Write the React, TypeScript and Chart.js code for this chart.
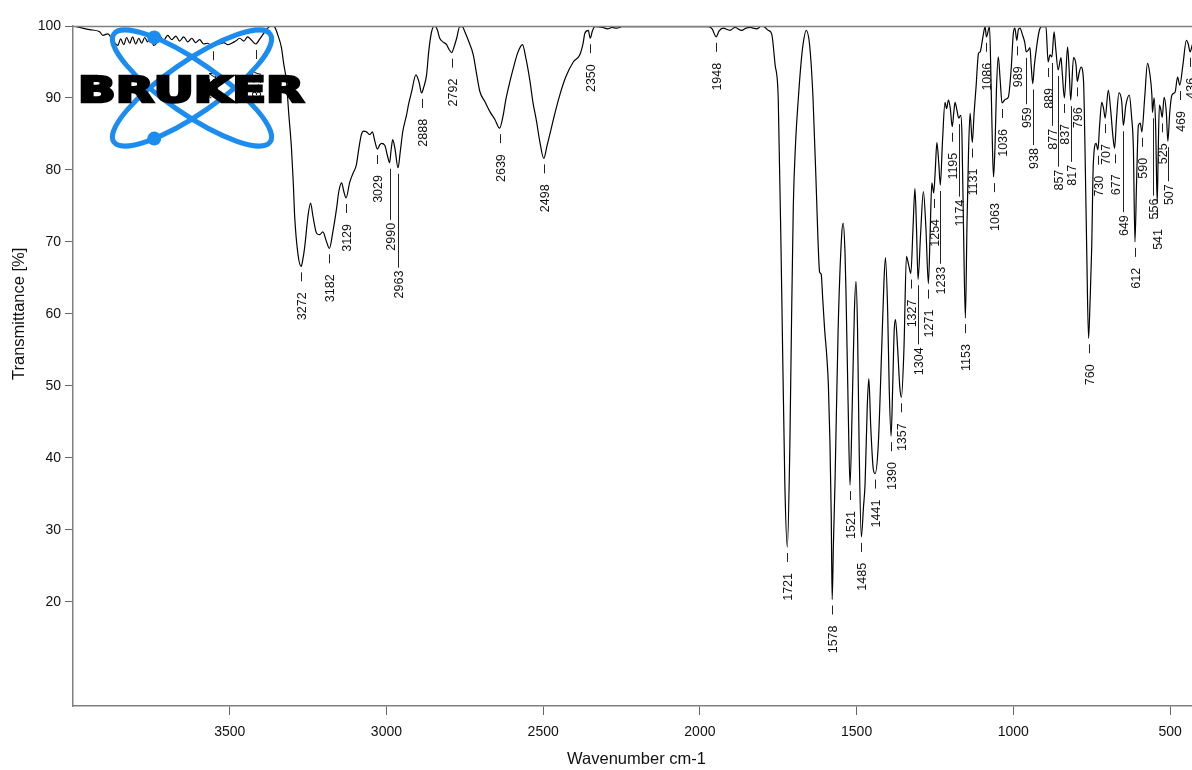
import React, { useEffect, useRef } from 'react';
import { Chart, registerables } from 'chart.js';

Chart.register(...registerables);

const FONT = '"Liberation Sans", Arial, Helvetica, sans-serif';

// Spectrum trace (wavenumber cm-1, transmittance %)
const WAVENUMBERS = [
  4000, 3979, 3947, 3915, 3905, 3889, 3873, 3857, 3848, 3838, 3829, 3819, 3810, 3800, 3790, 3781,
  3771, 3762, 3752, 3743, 3733, 3723, 3711, 3698, 3685, 3672, 3660, 3647, 3634, 3621, 3609, 3596,
  3583, 3570, 3557, 3545, 3532, 3519, 3506, 3494, 3481, 3468, 3455, 3443, 3430, 3417, 3404, 3391,
  3379, 3366, 3356, 3347, 3335, 3328, 3319, 3312, 3303, 3297, 3293, 3282, 3272, 3267, 3261, 3250,
  3242, 3235, 3223, 3213, 3203, 3191, 3182, 3171, 3159, 3152, 3143, 3136, 3129, 3117, 3107, 3096,
  3088, 3080, 3073, 3064, 3053, 3045, 3037, 3029, 3021, 3016, 3005, 2997, 2990, 2985, 2980, 2973,
  2963, 2956, 2948, 2936, 2929, 2920, 2906, 2896, 2888, 2881, 2872, 2865, 2856, 2846, 2838, 2830,
  2820, 2808, 2801, 2792, 2785, 2776, 2766, 2758, 2750, 2737, 2723, 2713, 2702, 2686, 2670, 2654,
  2639, 2628, 2619, 2606, 2593, 2581, 2566, 2555, 2542, 2533, 2521, 2511, 2498, 2488, 2479, 2463,
  2447, 2428, 2404, 2383, 2373, 2367, 2356, 2350, 2343, 2335, 2310, 2294, 2281, 2265, 2249, 2191,
  2064, 1974, 1961, 1948, 1939, 1926, 1904, 1888, 1867, 1853, 1840, 1819, 1803, 1792, 1782, 1771,
  1760, 1750, 1739, 1729, 1721, 1713, 1708, 1702, 1695, 1686, 1678, 1671, 1661, 1650, 1639, 1628,
  1623, 1618, 1613, 1608, 1602, 1595, 1590, 1585, 1581, 1578, 1574, 1569, 1559, 1548, 1543, 1537,
  1534, 1527, 1521, 1514, 1507, 1502, 1497, 1492, 1485, 1478, 1473, 1466, 1461, 1455, 1447, 1441,
  1431, 1420, 1413, 1408, 1401, 1396, 1390, 1385, 1380, 1376, 1369, 1362, 1357, 1349, 1341, 1334,
  1327, 1320, 1314, 1309, 1304, 1296, 1287, 1279, 1271, 1265, 1260, 1254, 1249, 1244, 1238, 1233,
  1226, 1218, 1213, 1207, 1201, 1195, 1190, 1186, 1180, 1174, 1168, 1164, 1159, 1153, 1148, 1143,
  1138, 1131, 1125, 1119, 1111, 1106, 1097, 1090, 1086, 1076, 1071, 1066, 1063, 1058, 1054, 1048,
  1042, 1036, 1026, 1016, 1007, 1000, 995, 989, 984, 979, 971, 963, 959, 953, 947, 943,
  938, 933, 926, 918, 910, 896, 889, 883, 877, 870, 865, 857, 848, 844, 837, 827,
  822, 817, 808, 800, 796, 790, 784, 776, 771, 766, 760, 755, 750, 745, 736, 730,
  725, 718, 712, 707, 697, 689, 683, 677, 671, 663, 654, 649, 641, 630, 623, 617,
  612, 607, 601, 595, 590, 581, 572, 565, 558, 556, 551, 546, 541, 538, 534, 530,
  525, 519, 512, 507, 501, 494, 484, 476, 469, 459, 448, 442, 436, 429,
];

const TRANSMITTANCE = [
  100, 99.8, 99.5, 99.2, 98.7, 98.9, 98.0, 97.3, 98.2, 97.4, 98.4, 97.6, 98.5, 97.5, 98.3, 97.6,
  98.4, 97.8, 98.5, 97.3, 97.6, 98.6, 98.0, 98.7, 98.1, 98.6, 97.9, 98.5, 97.8, 98.3, 97.7, 98.1,
  97.5, 97.6, 97.2, 97.7, 97.5, 97.7, 97.4, 97.6, 97.9, 98.3, 97.9, 98.5, 98.0, 97.5, 98.2, 99.0,
  99.7, 100, 99.8, 98.8, 97.0, 94.8, 92.3, 88.0, 83.0, 78.0, 73.7, 68.2, 66.6, 67.5, 69.2, 73.7,
  75.4, 73.7, 71.2, 71.0, 71.4, 70.0, 69.1, 71.4, 74.7, 77.0, 78.2, 77.0, 76.1, 78.3, 79.5, 80.7,
  83.0, 84.9, 85.4, 85.3, 84.9, 85.3, 84.0, 82.9, 83.5, 83.7, 83.4, 82.0, 81.0, 82.8, 84.2, 83.0,
  80.3, 82.5, 85.3, 87.6, 89.2, 90.8, 93.2, 92.2, 90.7, 91.5, 93.2, 96.5, 99.2, 100, 99.5, 98.3,
  97.8, 97.4, 96.8, 96.3, 97.0, 98.3, 99.9, 99.9, 99.2, 97.8, 96.0, 93.5, 90.9, 89.5, 88.1, 87.0,
  85.8, 87.5, 89.8, 92.3, 94.5, 96.3, 97.4, 95.5, 92.3, 89.5, 86.7, 84.0, 81.6, 83.3, 84.9, 87.8,
  90.4, 92.9, 95.0, 96.0, 97.5, 99.0, 99.4, 98.3, 99.3, 99.9, 99.8, 99.6, 99.8, 99.7, 99.9, 99.9,
  99.9, 99.9, 99.6, 98.5, 99.3, 99.7, 99.4, 99.8, 99.4, 99.7, 99.8, 99.6, 100, 99.8, 99.4, 98.9,
  94.6, 89.9, 63.2, 36.4, 27.6, 41.7, 57.8, 74.9, 83.5, 89.9, 94.5, 97.4, 99.4, 97.4, 89.9, 76.5,
  70.0, 65.8, 65.5, 62.0, 57.8, 54.0, 50.0, 42.0, 32.0, 20.3, 28.0, 36.4, 57.8, 70.7, 72.6, 68.5,
  63.2, 47.2, 36.2, 47.2, 60.5, 64.5, 57.8, 41.7, 29.0, 33.2, 36.4, 47.2, 51.0, 44.4, 38.5, 37.8,
  41.7, 55.1, 64.2, 67.8, 60.5, 49.7, 43.0, 49.7, 57.8, 59.2, 55.1, 49.7, 48.4, 55.1, 68.0, 66.8,
  65.6, 72.0, 77.4, 72.0, 64.8, 71.0, 77.0, 72.0, 64.2, 72.0, 78.2, 76.8, 80.0, 83.8, 81.0, 77.9,
  84.0, 89.4, 88.5, 89.7, 88.5, 86.0, 88.0, 89.4, 88.3, 87.2, 87.6, 85.0, 72.0, 59.4, 72.0, 82.4,
  87.9, 83.8, 88.0, 91.5, 96.2, 96.4, 98.5, 99.9, 98.5, 99.9, 92.0, 82.0, 79.0, 84.0, 91.0, 95.7,
  92.5, 89.3, 89.8, 90.1, 94.0, 99.0, 99.7, 98.0, 99.5, 99.7, 98.8, 97.6, 96.4, 96.6, 97.0, 94.5,
  92.0, 94.5, 97.0, 99.2, 99.9, 99.9, 95.0, 96.0, 95.7, 99.2, 97.0, 93.9, 95.6, 93.5, 90.0, 97.1,
  94.0, 89.7, 95.6, 94.6, 92.3, 93.5, 94.3, 92.3, 82.0, 69.2, 56.6, 62.0, 69.2, 80.7, 83.7, 82.8,
  86.0, 89.4, 88.5, 87.2, 91.1, 88.1, 85.0, 83.0, 87.0, 90.7, 89.4, 86.2, 89.0, 90.4, 87.5, 83.0,
  70.0, 78.0, 86.2, 86.5, 85.3, 90.0, 94.8, 93.5, 90.4, 88.0, 90.0, 86.0, 75.4, 82.0, 89.0, 88.5,
  87.3, 90.1, 88.0, 84.0, 88.0, 90.4, 90.8, 92.9, 91.8, 94.6, 98.0, 97.5, 96.4, 97.4,
];

// Peak picks (wavenumbers printed under the minima)
const PEAK_LABELS = [
  3554, 3417, 3272, 3182, 3129, 3029, 2990, 2963, 2888, 2792, 2639, 2498, 2350, 1948,
  1721, 1578, 1521, 1485, 1441, 1390, 1357, 1327, 1304, 1271, 1254, 1233, 1195, 1174,
  1153, 1131, 1086, 1063, 1036, 989, 959, 938, 889, 877, 857, 837, 817, 796, 760, 730,
  707, 677, 649, 612, 590, 556, 541, 525, 507, 469, 436,
];

const X_TICKS = [3500, 3000, 2500, 2000, 1500, 1000, 500];
const Y_TICKS = [20, 30, 40, 50, 60, 70, 80, 90, 100];
const X_TITLE = 'Wavenumber cm-1';
const Y_TITLE = 'Transmittance [%]';
const LOGO_TEXT = 'BRUKER';

function transmittanceAt(w: number): number {
  for (let i = 0; i < WAVENUMBERS.length - 1; i++) {
    const a = WAVENUMBERS[i];
    const b = WAVENUMBERS[i + 1];
    if (w <= a && w >= b) {
      const t = a === b ? 0 : (a - w) / (a - b);
      return TRANSMITTANCE[i] + t * (TRANSMITTANCE[i + 1] - TRANSMITTANCE[i]);
    }
  }
  return 100;
}

const framePlugin = {
  id: 'frameTop',
  afterDraw(chart: any) {
    const { ctx, chartArea } = chart;
    ctx.save();
    ctx.strokeStyle = '#808080';
    ctx.lineWidth = 1.5;
    ctx.beginPath();
    ctx.moveTo(chartArea.left, chartArea.top + 0.5);
    ctx.lineTo(chartArea.right, chartArea.top + 0.5);
    ctx.stroke();
    ctx.restore();
  },
};

const peakLabelPlugin = {
  id: 'peakLabels',
  afterDatasetsDraw(chart: any) {
    const { ctx } = chart;
    const xs = chart.scales.x;
    const ys = chart.scales.y;
    ctx.save();
    ctx.font = `12.5px ${FONT}`;
    ctx.fillStyle = '#111';
    ctx.strokeStyle = '#222';
    ctx.lineWidth = 1;
    const placed: { x: number; top: number; bottom: number }[] = [];
    for (const p of PEAK_LABELS) {
      const rx = xs.getPixelForValue(p);
      const px = Math.round(rx) + 0.5;
      const dip = ys.getPixelForValue(transmittanceAt(p));
      const text = String(p);
      const len = ctx.measureText(text).width;
      let top = dip + 26;
      let pushed = false;
      let moved = true;
      let guard = 0;
      while (moved && guard < 50) {
        moved = false;
        guard++;
        for (const q of placed) {
          if (Math.abs(q.x - rx) < 12.35 && top < q.bottom + 5 && top + len + 5 > q.top) {
            top = q.bottom + 20;
            pushed = true;
            moved = true;
          }
        }
      }
      placed.push({ x: rx, top, bottom: top + len });
      ctx.beginPath();
      ctx.moveTo(px, dip + 6);
      ctx.lineTo(px, pushed ? top - 3 : dip + 15);
      ctx.stroke();
      ctx.save();
      ctx.translate(px, top);
      ctx.rotate(-Math.PI / 2);
      ctx.textAlign = 'right';
      ctx.textBaseline = 'middle';
      ctx.fillText(text, 0, 1);
      ctx.restore();
    }
    ctx.restore();
  },
};

const titlesPlugin = {
  id: 'axisTitles',
  afterDraw(chart: any) {
    const { ctx, chartArea } = chart;
    const ys = chart.scales.y;
    ctx.save();
    ctx.fillStyle = '#111';
    ctx.font = `16.5px ${FONT}`;
    ctx.textAlign = 'center';
    ctx.textBaseline = 'alphabetic';
    ctx.fillText(X_TITLE, (chartArea.left + chartArea.right) / 2 + 4, 764);
    const yMid = (ys.getPixelForValue(Y_TICKS[0]) + ys.getPixelForValue(Y_TICKS[Y_TICKS.length - 1])) / 2;
    ctx.translate(24, yMid);
    ctx.rotate(-Math.PI / 2);
    ctx.fillText(Y_TITLE, 0, 0);
    ctx.restore();
  },
};

const logoPlugin = {
  id: 'brukerLogo',
  afterDraw(chart: any) {
    const { ctx } = chart;
    const cx = 192;
    const cy = 88;
    const a = 95;
    const b = 26;
    const th = (34.6 * Math.PI) / 180;
    ctx.save();
    ctx.strokeStyle = '#1b8cf0';
    ctx.fillStyle = '#1b8cf0';
    ctx.lineWidth = 5;
    for (const s of [1, -1]) {
      ctx.beginPath();
      ctx.ellipse(cx, cy, a, b, s * th, 0, Math.PI * 2);
      ctx.stroke();
    }
    // electrons
    const t = Math.atan2(-0.777, -0.63);
    const u = a * Math.cos(t);
    const v = b * Math.sin(t);
    const d1x = cx + u * Math.cos(th) - v * Math.sin(th);
    const d1y = cy + u * Math.sin(th) + v * Math.cos(th);
    const d2x = d1x;
    const d2y = 2 * cy - d1y;
    for (const [dx, dy] of [[d1x, d1y], [d2x, d2y]]) {
      ctx.beginPath();
      ctx.arc(dx, dy, 7, 0, Math.PI * 2);
      ctx.fill();
    }
    // text
    ctx.fillStyle = '#000';
    ctx.strokeStyle = '#000';
    ctx.lineJoin = 'miter';
    ctx.font = `bold 35px "DejaVu Sans", ${FONT}`;
    ctx.textBaseline = 'alphabetic';
    ctx.textAlign = 'left';
    const w = ctx.measureText(LOGO_TEXT).width;
    const targetW = 226;
    ctx.translate(78, 102);
    ctx.scale(targetW / w, 1);
    ctx.lineWidth = 2.6;
    ctx.fillText(LOGO_TEXT, 0, 0);
    ctx.strokeText(LOGO_TEXT, 0, 0);
    ctx.restore();
  },
};

export default function App() {
  const canvasRef = useRef<HTMLCanvasElement | null>(null);

  useEffect(() => {
    const canvas = canvasRef.current;
    if (!canvas) return;
    const points = WAVENUMBERS.map((w, i) => ({ x: w, y: TRANSMITTANCE[i] }));
    const chart = new Chart(canvas, {
      type: 'line',
      data: {
        datasets: [
          {
            data: points,
            borderColor: '#000',
            borderWidth: 1.2,
            pointRadius: 0,
            fill: false,
            cubicInterpolationMode: 'monotone',
          },
        ],
      },
      options: {
        responsive: false,
        animation: false,
        events: [],
        layout: { padding: { top: 26, right: 0, left: 0, bottom: 0 } },
        plugins: {
          legend: { display: false },
          tooltip: { enabled: false },
          title: { display: false },
        },
        scales: {
          x: {
            type: 'linear',
            reverse: true,
            min: 430,
            max: 4000,
            afterBuildTicks: (s: any) => {
              s.ticks = X_TICKS.map((v) => ({ value: v }));
            },
            afterFit: (s: any) => {
              s.height = 64;
            },
            grid: {
              display: true,
              drawOnChartArea: false,
              drawTicks: true,
              tickLength: 9,
              color: '#666',
            },
            border: { display: true, color: '#808080', width: 1.5 },
            ticks: {
              font: { family: FONT, size: 14 },
              color: '#111',
              padding: 9,
              maxRotation: 0,
              autoSkip: false,
              callback: (v: any) => String(v),
            },
          },
          y: {
            type: 'linear',
            min: 5.5,
            max: 100,
            afterBuildTicks: (s: any) => {
              s.ticks = Y_TICKS.map((v) => ({ value: v }));
            },
            afterFit: (s: any) => {
              s.width = 73;
            },
            grid: {
              display: true,
              drawOnChartArea: false,
              drawTicks: true,
              tickLength: 8,
              color: '#666',
            },
            border: { display: true, color: '#808080', width: 1.5 },
            ticks: {
              font: { family: FONT, size: 14 },
              color: '#111',
              padding: 4,
              autoSkip: false,
              callback: (v: any) => String(v),
            },
          },
        },
      },
      plugins: [framePlugin, peakLabelPlugin, titlesPlugin, logoPlugin],
    } as any);
    return () => chart.destroy();
  }, []);

  return (
    <div style={{ position: 'absolute', left: 0, top: 0, width: 1192, height: 770, background: '#fff' }}>
      <canvas ref={canvasRef} width={1192} height={770} style={{ display: 'block', width: 1192, height: 770 }} />
    </div>
  );
}
